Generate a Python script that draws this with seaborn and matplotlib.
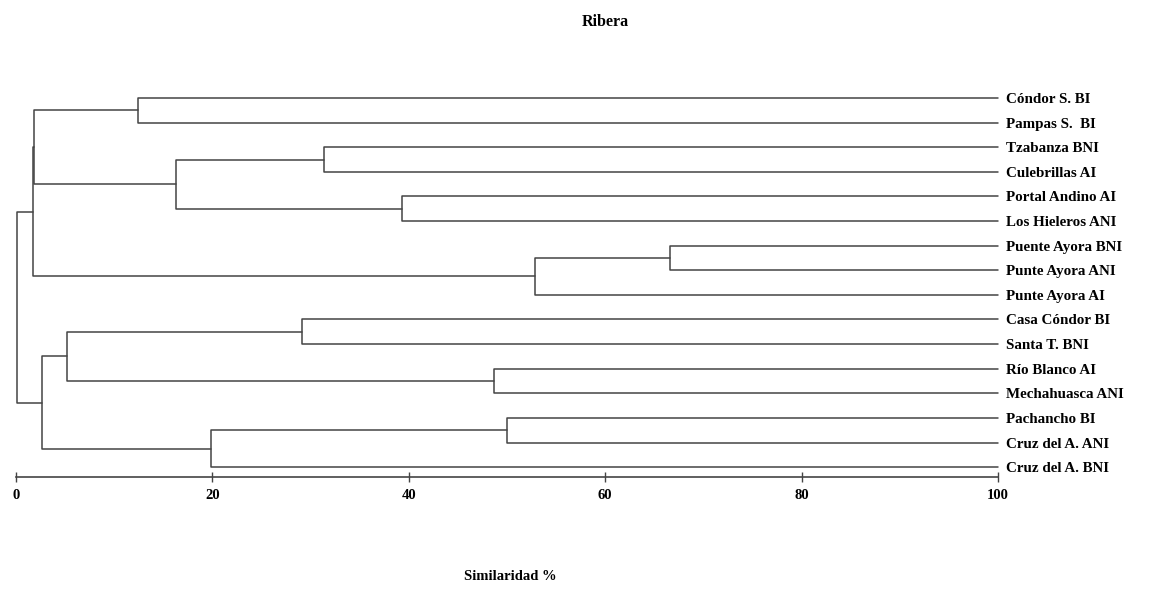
import seaborn as sns
import matplotlib.pyplot as plt
import pandas as pd

# leaves, top to bottom
sites = ['Cóndor S. BI', 'Pampas S.  BI', 'Tzabanza BNI', 'Culebrillas AI',
         'Portal Andino AI', 'Los Hieleros ANI', 'Puente Ayora BNI', 'Punte Ayora ANI',
         'Punte Ayora AI', 'Casa Cóndor BI', 'Santa T. BNI', 'Río Blanco AI',
         'Mechahuasca ANI', 'Pachancho BI', 'Cruz del A. ANI', 'Cruz del A. BNI']

# merges: ids of the two joined clusters (leaves 0-15, then 16, 17, ... in order) and similarity %
left_id = [0, 2, 4, 17, 16, 6, 21, 20, 9, 11, 24, 13, 27, 26, 23]
right_id = [1, 3, 5, 18, 19, 7, 8, 22, 10, 12, 25, 14, 15, 28, 29]
similarity = [12.4, 31.4, 39.3, 16.3, 1.8, 66.6, 52.9, 1.7, 29.1, 48.7, 5.2, 50.0, 19.9, 2.6, 0.1]

title = 'Ribera'
xlabel = 'Similaridad %'

# positions of every node
ypos = {i: float(i) for i in range(len(sites))}
xpos = {i: 100.0 for i in range(len(sites))}
rows = []
seg = 0
for k, (a, b, s) in enumerate(zip(left_id, right_id, similarity)):
    node = len(sites) + k
    ypos[node] = (ypos[a] + ypos[b]) / 2
    xpos[node] = s
    # bracket: child a -> s -> child b
    for xx, yy in [(xpos[a], ypos[a]), (s, ypos[a]), (s, ypos[b]), (xpos[b], ypos[b])]:
        rows.append({'x': xx, 'y': yy, 'seg': seg})
    seg += 1
df = pd.DataFrame(rows)

sns.set_style('white')
plt.rcParams['font.family'] = ['Liberation Serif', 'DejaVu Serif']
plt.rcParams['text.color'] = 'black'
plt.rcParams['xtick.color'] = 'black'
plt.rcParams['ytick.color'] = 'black'

fig = plt.figure(figsize=(11.68, 5.89), dpi=100)
ax = fig.add_axes([16 / 1168, 1 - 477 / 589, (998 - 16) / 1168, (477 - 73.4) / 589])

sns.lineplot(data=df, x='x', y='y', units='seg', estimator=None, sort=False,
             color='#444444', linewidth=1.1, ax=ax, legend=False)
for line in ax.lines:
    line.set_clip_on(False)

ax.set_xlim(0, 100)
ax.set_ylim(15.4, -1)
ax.set_xticks([0, 20, 40, 60, 80, 100])
ax.set_xticklabels(['0', '20', '40', '60', '80', '100'], fontweight='bold', fontsize=10.5)
ax.tick_params(axis='x', bottom=True, direction='inout', length=7, width=1,
               color='#444444', labelcolor='black', pad=5)

ax.yaxis.tick_right()
ax.set_yticks(range(len(sites)))
ax.set_yticklabels(sites, fontweight='bold', fontsize=10.8)
ax.tick_params(axis='y', length=0, pad=6, labelcolor='black')

for side in ['top', 'left', 'right']:
    ax.spines[side].set_visible(False)
ax.spines['bottom'].set_color('#444444')
ax.spines['bottom'].set_linewidth(1.2)

ax.set_xlabel('')
ax.set_ylabel('')
fig.text(510 / 1168, 1 - 577 / 589, xlabel, ha='center', va='center', fontweight='bold', fontsize=10.5)
fig.text(605 / 1168, 1 - 22 / 589, title, ha='center', va='center', fontweight='bold', fontsize=11.5)

fig.savefig('out.png', dpi=100)
